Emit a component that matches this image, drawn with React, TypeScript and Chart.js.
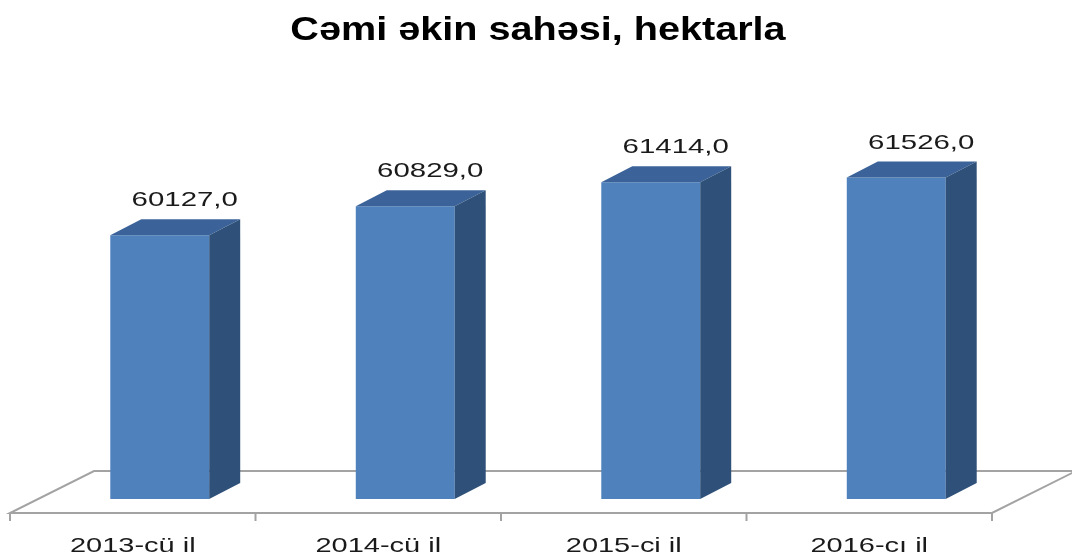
import React, { useEffect, useRef } from "react";
import { Chart, registerables } from "chart.js";

Chart.register(...registerables);

// ---- data ----
const TITLE = "Cəmi əkin sahəsi, hektarla";
const categories = ["2013-cü il", "2014-cü il", "2015-ci il", "2016-cı il"];
const values = [60127.0, 60829.0, 61414.0, 61526.0];
const valueLabels = ["60127,0", "60829,0", "61414,0", "61526,0"];
const Y_MIN = 53730;
const Y_MAX = 62000;

// ---- styles / geometry ----
const FRONT = "#4f81bd";
const TOP = "#3b6399";
const SIDE = "#2f5179";
const FLOOR_LINE = "#a3a3a3";
const DEPTH = { dx: 31, dy: -16 };
const FLOOR_FRONT = { dx: -27, dy: 14 };
const FLOOR_BACK = { dx: 57, dy: -28 };
const TEXT_STRETCH = 1.4;

function stretchedText(
  ctx: CanvasRenderingContext2D,
  text: string,
  x: number,
  y: number,
  font: string,
  sx: number,
  color: string
) {
  ctx.save();
  ctx.translate(x, y);
  ctx.scale(sx, 1);
  ctx.font = font;
  ctx.fillStyle = color;
  ctx.textAlign = "center";
  ctx.textBaseline = "alphabetic";
  ctx.fillText(text, 0, 0);
  ctx.restore();
}

const bar3dPlugin = {
  id: "bar3d",
  beforeDatasetsDraw(chart: any) {
    const { ctx, chartArea: a } = chart;
    const x = chart.scales.x;
    const yb = a.bottom;
    const fl = a.left + FLOOR_FRONT.dx;
    const fr = a.right + FLOOR_FRONT.dx;
    const fy = yb + FLOOR_FRONT.dy;
    const bl = a.left + FLOOR_BACK.dx;
    const br = a.right + FLOOR_BACK.dx;
    const by = yb + FLOOR_BACK.dy;
    ctx.save();
    ctx.beginPath();
    ctx.moveTo(fl, fy);
    ctx.lineTo(fr, fy);
    ctx.lineTo(br, by);
    ctx.lineTo(bl, by);
    ctx.closePath();
    ctx.fillStyle = "#ffffff";
    ctx.fill();
    ctx.strokeStyle = FLOOR_LINE;
    ctx.lineWidth = 2;
    ctx.stroke();
    // ticks at category boundaries on the front edge
    ctx.beginPath();
    for (let i = 0; i <= categories.length; i++) {
      const px = x.getPixelForValue(i - 0.5) + FLOOR_FRONT.dx;
      ctx.moveTo(px, fy);
      ctx.lineTo(px, fy + 8);
    }
    ctx.stroke();
    ctx.restore();
  },
  afterDatasetsDraw(chart: any) {
    const { ctx } = chart;
    const meta = chart.getDatasetMeta(0);
    const b = chart.scales.y.getPixelForValue(Y_MIN);
    ctx.save();
    meta.data.forEach((bar: any) => {
      const w = bar.width;
      const l = bar.x - w / 2;
      const r = bar.x + w / 2;
      const t = bar.y;
      // top face
      ctx.beginPath();
      ctx.moveTo(l, t);
      ctx.lineTo(r, t);
      ctx.lineTo(r + DEPTH.dx, t + DEPTH.dy);
      ctx.lineTo(l + DEPTH.dx, t + DEPTH.dy);
      ctx.closePath();
      ctx.fillStyle = TOP;
      ctx.fill();
      // side face
      ctx.beginPath();
      ctx.moveTo(r, t);
      ctx.lineTo(r + DEPTH.dx, t + DEPTH.dy);
      ctx.lineTo(r + DEPTH.dx, b + DEPTH.dy);
      ctx.lineTo(r, b);
      ctx.closePath();
      ctx.fillStyle = SIDE;
      ctx.fill();
    });
    ctx.restore();
  },
  afterDraw(chart: any) {
    const { ctx } = chart;
    const meta = chart.getDatasetMeta(0);
    const x = chart.scales.x;
    const a = chart.chartArea;
    // title
    stretchedText(ctx, TITLE, 538, 40, "bold 33px 'Liberation Sans', Arial, sans-serif", 1.2, "#000000");
    // value labels
    meta.data.forEach((bar: any, i: number) => {
      stretchedText(
        ctx,
        valueLabels[i],
        bar.x + 25,
        bar.y - 29,
        "21px 'Liberation Sans', Arial, sans-serif",
        TEXT_STRETCH,
        "#1a1a1a"
      );
    });
    // category labels
    categories.forEach((c, i) => {
      const px = x.getPixelForValue(i) + FLOOR_FRONT.dx;
      stretchedText(
        ctx,
        c,
        px,
        a.bottom + 53,
        "21px 'Liberation Sans', Arial, sans-serif",
        1.38,
        "#1a1a1a"
      );
    });
  },
};

export default function App() {
  const ref = useRef<HTMLCanvasElement | null>(null);
  useEffect(() => {
    document.body.style.margin = "0";
    const canvas = ref.current;
    if (!canvas) return;
    const chart = new Chart(canvas, {
      type: "bar",
      data: {
        labels: categories,
        datasets: [
          {
            data: values,
            base: Y_MIN,
            backgroundColor: FRONT,
            borderWidth: 0,
            categoryPercentage: 1,
            barPercentage: 0.403,
          },
        ],
      },
      options: {
        responsive: false,
        animation: false,
        devicePixelRatio: 1,
        layout: { padding: { left: 37, right: 53, top: 158, bottom: 57 } },
        plugins: {
          legend: { display: false },
          title: { display: false },
          tooltip: { enabled: false },
        },
        scales: {
          x: { display: false, offset: true },
          y: { display: false, min: Y_MIN, max: Y_MAX },
        },
      },
      plugins: [bar3dPlugin],
    });
    return () => chart.destroy();
  }, []);
  return (
    <div style={{ width: 1072, height: 556, background: "#ffffff" }}>
      <canvas ref={ref} width={1072} height={556} />
    </div>
  );
}
